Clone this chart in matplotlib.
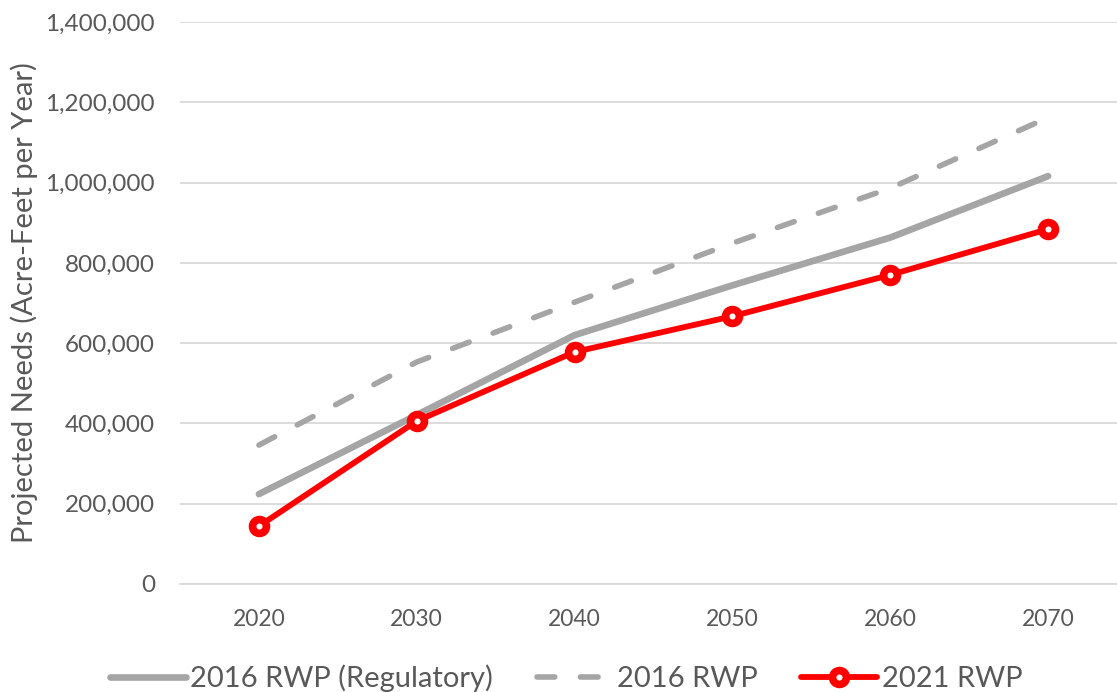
import matplotlib
matplotlib.use("Agg")
import matplotlib.pyplot as plt
from matplotlib.ticker import FuncFormatter, MultipleLocator

years = ["2020", "2030", "2040", "2050", "2060", "2070"]
rwp2016_reg = [224000, 421000, 620000, 744000, 863000, 1016000]
rwp2016 = [346000, 553000, 702000, 849000, 986000, 1162000]
rwp2021 = [144000, 406000, 578000, 667000, 770000, 884000]

plt.rcParams['font.family'] = ['Lato', 'DejaVu Sans']
txt = '#595959'
fig = plt.figure(figsize=(11.17, 6.92), dpi=100)
ax = fig.add_axes([180/1117, 1-584/692, 947/1117, (584-22)/692])
x = list(range(len(years)))
l1, = ax.plot(x, rwp2016_reg, color='#A5A5A5', lw=4.8, solid_capstyle='round', label='2016 RWP (Regulatory)', zorder=3)
l2, = ax.plot(x, rwp2016, color='#A5A5A5', lw=4.0, ls=(0, (3.2, 4.6)), dash_capstyle='round', label='2016 RWP', zorder=3)
l3, = ax.plot(x, rwp2021, color='#FF0000', lw=4.2, solid_capstyle='round', marker='o', ms=10, mfc='white', mec='#FF0000', mew=5.5, label='2021 RWP', zorder=4)

ax.set_xlim(-0.5, 5.5)
ax.set_ylim(0, 1400000)
ax.yaxis.set_major_locator(MultipleLocator(200000))
ax.yaxis.set_major_formatter(FuncFormatter(lambda v, p: f"{int(v):,}"))
ax.set_xticks(x)
ax.set_xticklabels(years)
ax.grid(axis='y', color='#D9D9D9', lw=1.3, zorder=0)
for s in ['top', 'right', 'left']:
    ax.spines[s].set_visible(False)
ax.spines['bottom'].set_color('#D9D9D9')
ax.spines['bottom'].set_linewidth(1.3)
ax.tick_params(axis='both', length=0, colors=txt)
ax.tick_params(axis='x', pad=18, labelsize=16.5)
ax.tick_params(axis='y', pad=18, labelsize=17.5)
ax.set_ylabel('Projected Needs (Acre-Feet per Year)', fontsize=21, color=txt, labelpad=5)

leg = fig.legend(handles=[l1, l2, l3], loc='center', bbox_to_anchor=(566/1117, 1-678/692), ncol=3,
                 frameon=False, fontsize=21, labelcolor=txt, handlelength=2.6, handletextpad=0.15,
                 columnspacing=1.5)
fig.savefig('out.png', dpi=100)
